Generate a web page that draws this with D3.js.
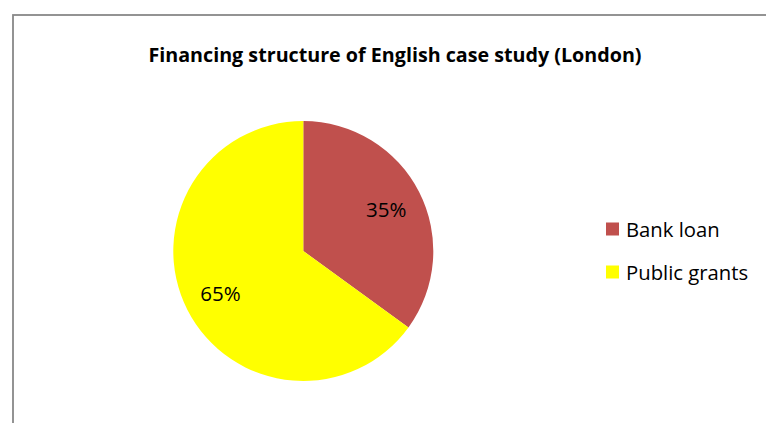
<!DOCTYPE html>
<html><head><meta charset="utf-8">
<script src="https://cdn.jsdelivr.net/npm/d3@7"></script>
<style>html,body{margin:0;padding:0;background:#fff;}svg{display:block;}</style>
</head><body>
<svg id="c" width="766" height="423"></svg>
<script>
const title = "Financing structure of English case study (London)";
const categories = ["Bank loan", "Public grants"];
const values = [35, 65];
const colors = ["#C0504D", "#FFFF00"];

const svg = d3.select("#c");
const font = "'Open Sans', sans-serif";

// chart frame
svg.append("rect").attr("x", 13).attr("y", 15).attr("width", 800).attr("height", 500)
  .attr("fill", "#fff").attr("stroke", "#888").attr("stroke-width", 1.8);

svg.append("text").attr("x", 395).attr("y", 62).attr("text-anchor", "middle")
  .attr("font-family", font).attr("font-weight", "bold").attr("font-size", 19.7)
  .attr("fill", "#000").text(title);

const cx = 303.3, cy = 251, r = 130;
const pie = d3.pie().sort(null).value(d => d)(values);
const arc = d3.arc().innerRadius(0).outerRadius(r);
const labelArc = d3.arc().innerRadius(93).outerRadius(93);
const g = svg.append("g").attr("transform", `translate(${cx},${cy})`);
g.selectAll("path").data(pie).join("path")
  .attr("d", arc).attr("fill", (d, i) => colors[i]);
const fmt = d3.format(".0%");
g.selectAll("text").data(pie).join("text")
  .attr("transform", d => `translate(${labelArc.centroid(d)})`)
  .attr("text-anchor", "middle").attr("dominant-baseline", "central")
  .attr("font-family", font).attr("font-size", 20.5).attr("fill", "#000")
  .text(d => fmt(d.data / d3.sum(values)));

// legend
const y = d3.scalePoint().domain(categories).range([229, 272]);
const lg = svg.append("g");
categories.forEach((c, i) => {
  lg.append("rect").attr("x", 606).attr("y", y(c) - 6.5).attr("width", 13).attr("height", 13)
    .attr("fill", colors[i]);
  lg.append("text").attr("x", 626).attr("y", y(c)).attr("dominant-baseline", "central")
    .attr("font-family", font).attr("font-size", 20.3).attr("fill", "#000").text(c);
});
</script>
</body></html>
